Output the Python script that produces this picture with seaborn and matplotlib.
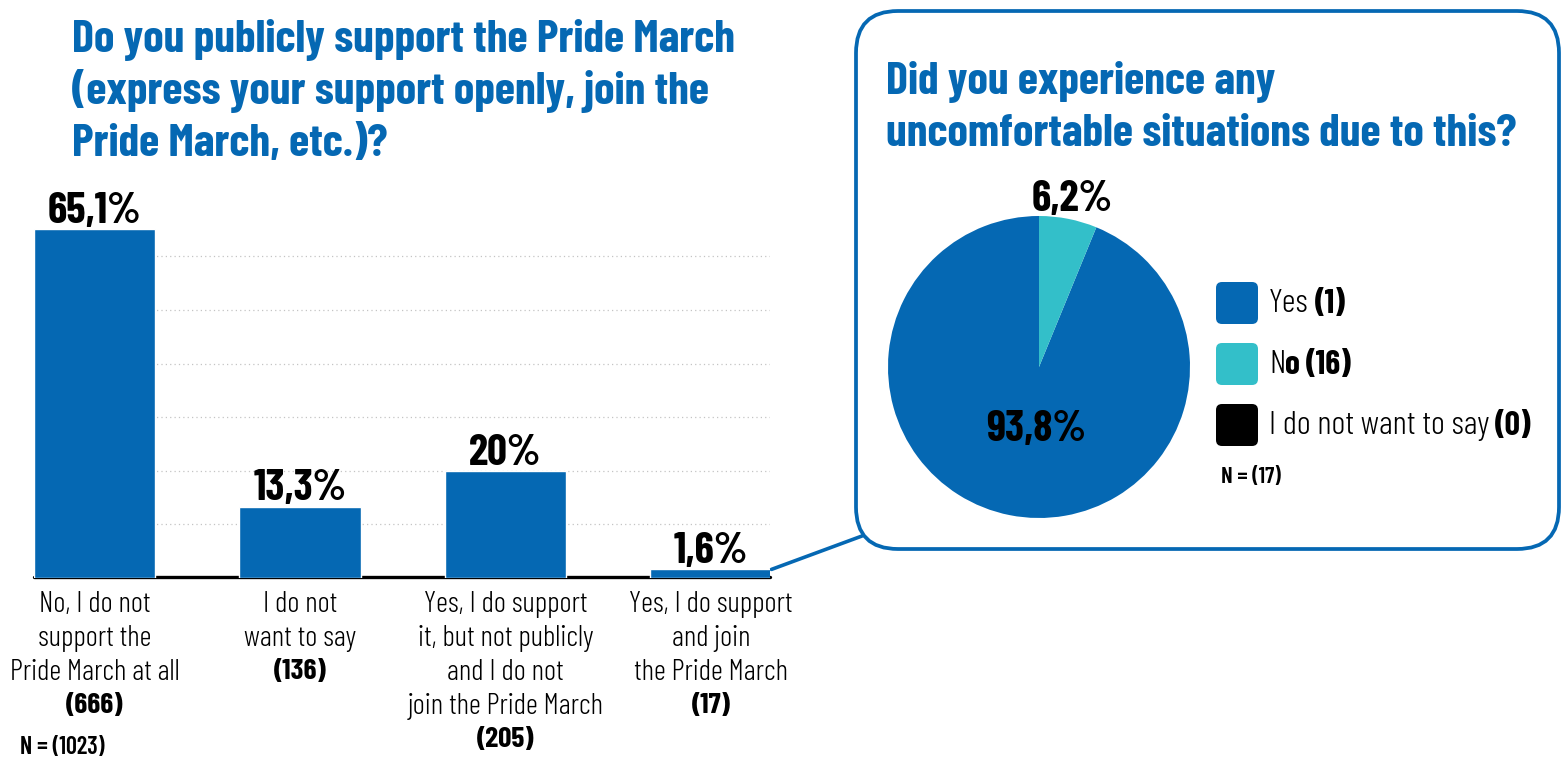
import matplotlib
matplotlib.use("Agg")
import matplotlib.pyplot as plt
import seaborn as sns
import pandas as pd
import numpy as np
from matplotlib.patches import FancyBboxPatch, ConnectionPatch
from matplotlib.transforms import IdentityTransform, blended_transform_factory

sns.set_theme(style="white")
plt.rcParams["font.family"] = ["Barlow Condensed", "DejaVu Sans"]

BLUE = "#0568B3"
TEAL = "#33BFC9"
BLACK = "#000000"

# ---- bar chart data ----
bar_keys = ["no", "not_say", "yes_private", "yes_join"]
bar_lines = [
    ["No, I do not", "support the", "Pride March at all"],
    ["I do not", "want to say"],
    ["Yes, I do support", "it, but not publicly", "and I do not", "join the Pride March"],
    ["Yes, I do support", "and join", "the Pride March"],
]
bar_counts = [666, 136, 205, 17]
bar_percent = [65.1, 13.3, 20.0, 1.6]
bar_value_labels = ["65,1%", "13,3%", "20%", "1,6%"]
bar_total = 1023
bar_title = ["Do you publicly support the Pride March",
             "(express your support openly, join the",
             "Pride March, etc.)?"]

# ---- pie chart data ----
pie_labels = ["Yes", "No", "I do not want to say"]
pie_legend_counts = [1, 16, 0]
pie_percent = [93.8, 6.2, 0.0]
pie_value_labels = ["93,8%", "6,2%", ""]
pie_colors = [BLUE, TEAL, BLACK]
pie_total = 17
pie_title = ["Did you experience any",
             "uncomfortable situations due to this?"]

W, H = 1562, 761
fig = plt.figure(figsize=(W / 100, H / 100), dpi=100)
renderer = fig.canvas.get_renderer()
PX = IdentityTransform()


def py(y_top):
    """Convert a distance from the top edge into display y."""
    return H - y_top


TITLE_SIZE = 33.3
VALUE_SIZE = 31.5

# ---------------- call-out box (drawn first, underneath everything) ----------------
box = FancyBboxPatch((856, py(549)), 703, 538,
                     boxstyle="round,pad=0,rounding_size=42",
                     transform=PX, facecolor="white", edgecolor=BLUE,
                     lw=2.7, zorder=-1)
fig.patches.append(box)

# ---------------- bar chart ----------------
bar_w = 0.59
ax = fig.add_axes([34 / W, (H - 578) / H, 736 / W, 70 * 5.361 / H])
ax.set_zorder(2)
ax.patch.set_alpha(0)
df = pd.DataFrame({"key": bar_keys, "percent": bar_percent})
sns.barplot(data=df, x="key", y="percent", color=BLUE, saturation=1,
            width=bar_w, ax=ax, zorder=3)
ax.set_xlim(-bar_w / 2, 3.288)
ax.set_ylim(0, 70)
ax.set_yticks([10, 20, 30, 40, 50, 60])
ax.yaxis.grid(True, linestyle=(0, (1, 2.5)), color="#c4c4c4", lw=0.9)
ax.xaxis.grid(False)
ax.set_axisbelow(True)
ax.tick_params(left=False, bottom=False, labelleft=False, labelbottom=False)
ax.set_xlabel("")
ax.set_ylabel("")
for s in ax.spines.values():
    s.set_visible(False)
ax.axhline(0.2, color="black", lw=2.4, zorder=2, clip_on=False)

for i, (pct, lab) in enumerate(zip(bar_percent, bar_value_labels)):
    ax.annotate(lab, (i, pct), xytext=(0, 4.5), textcoords="offset points",
                ha="center", va="baseline", fontsize=VALUE_SIZE, fontweight=700,
                color="black")

tr = blended_transform_factory(ax.transData, PX)
for i, (lines, n) in enumerate(zip(bar_lines, bar_counts)):
    for j, line in enumerate(lines):
        ax.text(i, py(604 + 34 * j), line, transform=tr, ha="center",
                va="center", fontsize=21.2, fontweight=300, color="black",
                clip_on=False)
    ax.text(i, py(604 + 34 * len(lines)), f"({n})", transform=tr,
            ha="center", va="center", fontsize=21.2, fontweight=700,
            color="black", clip_on=False)

fig.text(20, py(748), f"N = ({bar_total})", transform=PX, ha="left",
         va="center", fontsize=17.5, fontweight=600, color="black")

for j, line in enumerate(bar_title):
    fig.text(72, py(52 + 52 * j), line, transform=PX, ha="left",
             va="baseline", fontsize=TITLE_SIZE, fontweight=700, color=BLUE)

con = ConnectionPatch(xyA=(3 + bar_w / 2, bar_percent[3]), coordsA=ax.transData,
                      xyB=(862, py(536)), coordsB=PX, color=BLUE, lw=2.6,
                      zorder=0)
fig.add_artist(con)

for j, line in enumerate(pie_title):
    fig.text(886, py(94 + 52 * j), line, transform=PX, ha="left",
             va="baseline", fontsize=TITLE_SIZE, fontweight=700, color=BLUE, zorder=5)

# ---------------- pie chart ----------------
R = 151
pax = fig.add_axes([(1039 - R) / W, (H - 367 - R) / H, 2 * R / W, 2 * R / H])
pax.set_zorder(3)
pax.patch.set_alpha(0)
shown = [k for k, v in enumerate(pie_percent) if v > 0]
wedges, _ = pax.pie([pie_percent[k] for k in shown],
                    colors=[pie_colors[k] for k in shown],
                    startangle=90, counterclock=True,
                    wedgeprops=dict(linewidth=0))
pax.set_aspect("equal")
pax.set_xlim(-1, 1)
pax.set_ylim(-1, 1)
label_radius = {0: 0.42, 1: 1.13}
for w, k in zip(wedges, shown):
    mid = np.deg2rad((w.theta1 + w.theta2) / 2)
    r = label_radius[k]
    pax.text(r * np.cos(mid) + (0.06 if k == 0 else 0), r * np.sin(mid),
             pie_value_labels[k], ha="center", va="center",
             fontsize=VALUE_SIZE, fontweight=700, color="black", clip_on=False)

# legend with rounded swatches
for k, (lab, cnt, col) in enumerate(zip(pie_labels, pie_legend_counts, pie_colors)):
    top = 281 + 61 * k
    sw = FancyBboxPatch((1216, py(top + 43)), 42, 42,
                        boxstyle="round,pad=0,rounding_size=6",
                        transform=PX, facecolor=col, edgecolor="none", zorder=5)
    fig.patches.append(sw)
    yc = py(top + 23)
    if lab == "No":
        parts = [("N", 300, 0), ("o", 700, 6), (f"({cnt})", 700, 0)]
    else:
        parts = [(lab, 300, 6), (f"({cnt})", 700, 0)]
    x = 1269
    for txt, wt, gap in parts:
        t = fig.text(x, yc, txt, transform=PX, ha="left", va="center",
                     fontsize=24.3, fontweight=wt, color="black", zorder=6)
        x = t.get_window_extent(renderer).x1 + gap

fig.text(1221, py(477), f"N = ({pie_total})", transform=PX, ha="left",
         va="center", fontsize=16.8, fontweight=600, color="black", zorder=6)

fig.savefig("out.png", dpi=100)
